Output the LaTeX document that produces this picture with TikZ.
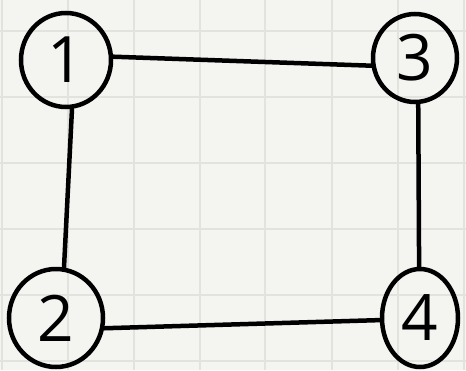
\documentclass[tikz,border=0pt]{standalone}
\usepackage{fontspec}
\setmainfont{Open Sans}
\usetikzlibrary{shapes.geometric}
\begin{document}
\begin{tikzpicture}[x=1pt,y=-1pt,
  paper/.style={fill=paperbg},
  gridline/.style={draw=gridgrey,line width=2.5pt},
  vertex/.style={draw=black,line width=4.5pt,ellipse,inner sep=0pt,font=\fontsize{64}{64}\selectfont},
  edge/.style={draw=black,line width=4.5pt,line cap=round}]
\definecolor{paperbg}{HTML}{F4F4F1}
\definecolor{gridgrey}{HTML}{E2E2DF}
% paper and squared grid
\fill[paper] (0,0) rectangle (466,370);
\useasboundingbox (0,0) rectangle (466,370);
\foreach \gx in {2,68,134,200,265,332,398,464}
  \draw[gridline] (\gx,0) -- (\gx,370);
\foreach \gy in {31,97,163,229,295,361}
  \draw[gridline] (0,\gy) -- (466,\gy);
% vertices
\node[vertex,minimum width=90pt,minimum height=94pt] (n1) at (66,60) {1};
\node[vertex,minimum width=84pt,minimum height=88pt] (n3) at (415,58) {3};
\node[vertex,minimum width=94pt,minimum height=98pt] (n2) at (56,318) {2};
\node[vertex,minimum width=76pt,minimum height=98pt] (n4) at (420,318) {4};
% edges
\draw[edge] (n1.4) -- (n3.190);
\draw[edge] (n1.277) -- (n2.81);
\draw[edge] (n3.274) -- (n4.91);
\draw[edge] (n2.348) -- (n4.183);
\end{tikzpicture}
\end{document}
